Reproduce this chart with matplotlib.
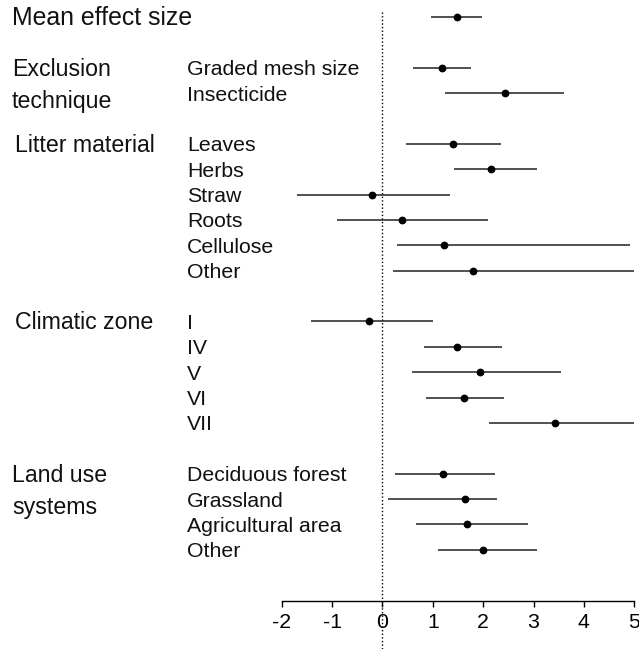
import numpy as np
import matplotlib.pyplot as plt
import matplotlib.transforms as mtransforms

plt.rcParams['font.family'] = ['Liberation Sans', 'DejaVu Sans']

# groups (left column) and their number of rows
group_names = [['Mean effect size'], ['Exclusion', 'technique'], ['Litter material'],
               ['Climatic zone'], ['Land use', 'systems']]
group_sizes = [1, 2, 6, 5, 4]

sub_labels = ['', 'Graded mesh size', 'Insecticide',
              'Leaves', 'Herbs', 'Straw', 'Roots', 'Cellulose', 'Other',
              'I', 'IV', 'V', 'VI', 'VII',
              'Deciduous forest', 'Grassland', 'Agricultural area', 'Other']
effect = [1.49, 1.18, 2.44, 1.40, 2.16, -0.21, 0.38, 1.22, 1.80,
          -0.27, 1.49, 1.94, 1.61, 3.43, 1.20, 1.64, 1.67, 1.99]
ci_low = [0.97, 0.61, 1.24, 0.47, 1.42, -1.69, -0.90, 0.28, 0.20,
          -1.42, 0.82, 0.59, 0.86, 2.11, 0.24, 0.11, 0.67, 1.10]
ci_high = [1.98, 1.75, 3.60, 2.35, 3.06, 1.35, 2.09, 4.92, 5.0,
           1.00, 2.38, 3.55, 2.41, 5.0, 2.23, 2.27, 2.88, 3.07]
xticks = [-2, -1, 0, 1, 2, 3, 4, 5]
xtick_labels = ['-2', '-1', '0', '1', '2', '3', '4', '5']

# row index of each estimate, one blank row between groups
rows = []
group_rows = []
r = 0
for n in group_sizes:
    group_rows.append(r)
    rows.extend(range(r, r + n))
    r += n + 1
axis_row = r

W, H = 639, 649
row_px = 25.37
top_px = 17

fig = plt.figure(figsize=(W / 100, H / 100), dpi=100)
ax = fig.add_axes([281.7 / W, 0, (634.3 - 281.7) / W, 1])
ax.patch.set_alpha(0)
ax.set_xlim(-2, 5)
ax.set_ylim((H - top_px) / row_px, -top_px / row_px)

ax.vlines(0, -0.2, (H - top_px) / row_px, colors='black', linestyles=(0, (1, 1.6)), lw=1.0)
ax.hlines(rows, ci_low, ci_high, colors='#222222', lw=1.1, clip_on=False)
ax.plot(effect, rows, 'o', color='black', ms=4.6, clip_on=False)

for s in ['top', 'right', 'left']:
    ax.spines[s].set_visible(False)
ax.spines['bottom'].set_position(('data', axis_row))
ax.spines['bottom'].set_bounds(-2, 5)
ax.spines['bottom'].set_linewidth(1.0)
ax.set_yticks([])
ax.set_xticks(xticks)
ax.set_xticklabels(xtick_labels, fontsize=15.3)
ax.tick_params(axis='x', direction='out', length=4.3, width=1.0, pad=5)

trans = mtransforms.blended_transform_factory(fig.transFigure, ax.transData)
for lab, rr in zip(sub_labels, rows):
    ax.text(187 / W, rr + 7.5 / row_px, lab, transform=trans, fontsize=15.3,
            ha='left', va='baseline', color='#111111')

group_x = [12, 12, 15, 15, 12]
group_size_pt = [17.9, 16.7, 16.7, 16.7, 16.7]
for names, rr, gx, fs in zip(group_names, group_rows, group_x, group_size_pt):
    for k, name in enumerate(names):
        ax.text(gx / W, rr + (8 + 32 * k) / row_px, name, transform=trans,
                fontsize=fs, ha='left', va='baseline', color='#111111')

fig.savefig('out.png', dpi=100)
